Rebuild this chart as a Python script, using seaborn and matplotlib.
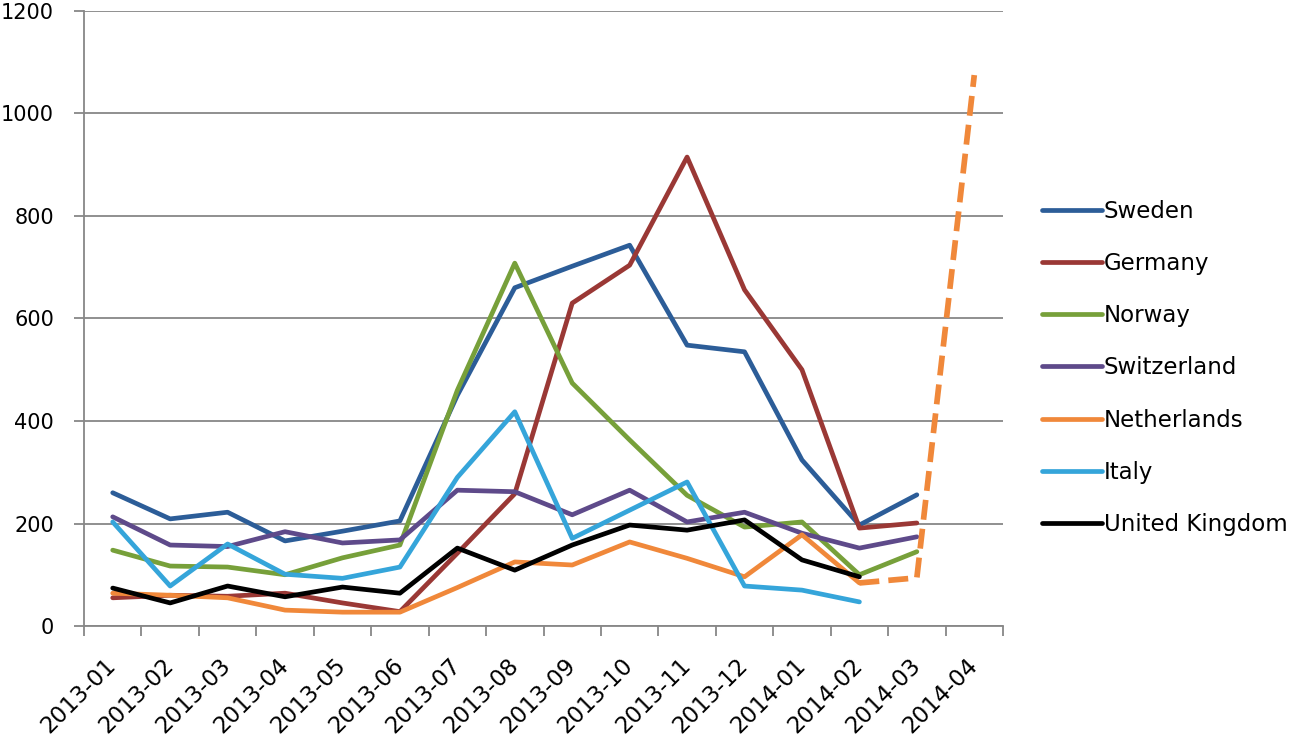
import numpy as np
import pandas as pd
import matplotlib
matplotlib.use("Agg")
import matplotlib.pyplot as plt
from matplotlib.lines import Line2D
import seaborn as sns

months = ["2013-01", "2013-02", "2013-03", "2013-04", "2013-05", "2013-06",
          "2013-07", "2013-08", "2013-09", "2013-10", "2013-11", "2013-12",
          "2014-01", "2014-02", "2014-03", "2014-04"]

sweden = [260, 209, 222, 166, 185, 205, 450, 660, 702, 743, 548, 535, 324, 197, 256]
germany = [55, 60, 58, 64, 45, 28, 142, 258, 630, 704, 915, 656, 500, 191, 201]
norway = [148, 117, 115, 100, 133, 158, 460, 708, 474, 363, 255, 193, 203, 100, 145]
switzerland = [213, 158, 155, 184, 162, 168, 265, 262, 217, 265, 203, 222, 181, 152, 174]
netherlands = [64, 60, 55, 31, 27, 27, 75, 125, 119, 164, 132, 96, 178, 84, 94, 1075]
italy = [203, 78, 160, 101, 93, 115, 290, 418, 171, 226, 281, 78, 70, 47]
united_kingdom = [74, 45, 78, 57, 76, 64, 152, 109, 158, 197, 187, 207, 129, 96]

countries = ["Sweden", "Germany", "Norway", "Switzerland", "Netherlands",
             "Italy", "United Kingdom"]
series = [sweden, germany, norway, switzerland, netherlands, italy, united_kingdom]
colors = ["#2C5D98", "#9A3835", "#77A03A", "#5E4A8A", "#F0883A", "#35A5DA", "#000000"]

# Netherlands is solid up to 2014-02, dashed afterwards
solid_end = months.index("2014-02")

rows = []
for name, vals in zip(countries, series):
    for i, v in enumerate(vals):
        rows.append({"country": name, "pos": i, "value": v})
df = pd.DataFrame(rows)

sns.set_style("white", {"text.color": "black"})
plt.rcParams["font.family"] = ["DejaVu Sans"]

fig = plt.figure(figsize=(12.99, 7.38), dpi=100)
ax = fig.add_axes([84 / 1299, 1 - 626 / 738, (1003 - 84) / 1299, (626 - 11) / 738])

lw = 3.4
for name, col in zip(countries, colors):
    sub = df[df["country"] == name]
    if name == "Netherlands":
        solid = sub[sub["pos"] <= solid_end]
        dashed = sub[sub["pos"] >= solid_end]
        sns.lineplot(data=solid, x="pos", y="value", color=col, linewidth=lw, ax=ax)
        sns.lineplot(data=dashed, x="pos", y="value", color=col, linewidth=lw + 0.7,
                     linestyle=(0, (3.5, 1.6)), ax=ax)
    else:
        sns.lineplot(data=sub, x="pos", y="value", color=col, linewidth=lw, ax=ax)

grid_col = "#878787"
ax.set_xlim(-0.5, len(months) - 0.5)
ax.set_ylim(0, 1200)
ax.set_yticks(np.arange(0, 1201, 200))
ax.yaxis.grid(True, color=grid_col, linewidth=1.3)
ax.xaxis.grid(False)
ax.set_axisbelow(True)

ax.set_xticks(np.arange(len(months)))
ax.set_xticklabels(months, rotation=45, ha="right", va="center", rotation_mode="anchor")
ax.set_xticks(np.arange(len(months) + 1) - 0.5, minor=True)
ax.tick_params(axis="x", which="major", length=0, pad=26, labelsize=16.5,
               labelcolor="black")
ax.tick_params(axis="x", which="minor", length=7.5, width=1.3, color=grid_col,
               direction="out", bottom=True)
ax.tick_params(axis="y", length=7.5, width=1.3, color=grid_col, direction="out",
               left=True, pad=14, labelsize=15, labelcolor="black")

ax.set_xlabel("")
ax.set_ylabel("")
for side in ["top", "right"]:
    ax.spines[side].set_visible(False)
for side in ["left", "bottom"]:
    ax.spines[side].set_color(grid_col)
    ax.spines[side].set_linewidth(1.3)

handles = [Line2D([0], [0], color=c, linewidth=lw) for c in colors]
fig.legend(handles, countries, loc="center left",
           bbox_to_anchor=(1042 / 1299, 1 - 368 / 738), frameon=False,
           fontsize=16.5, handlelength=2.6, handletextpad=0.1, labelspacing=1.27,
           borderpad=0, borderaxespad=0, labelcolor="black")

fig.savefig("out.png", dpi=100)
